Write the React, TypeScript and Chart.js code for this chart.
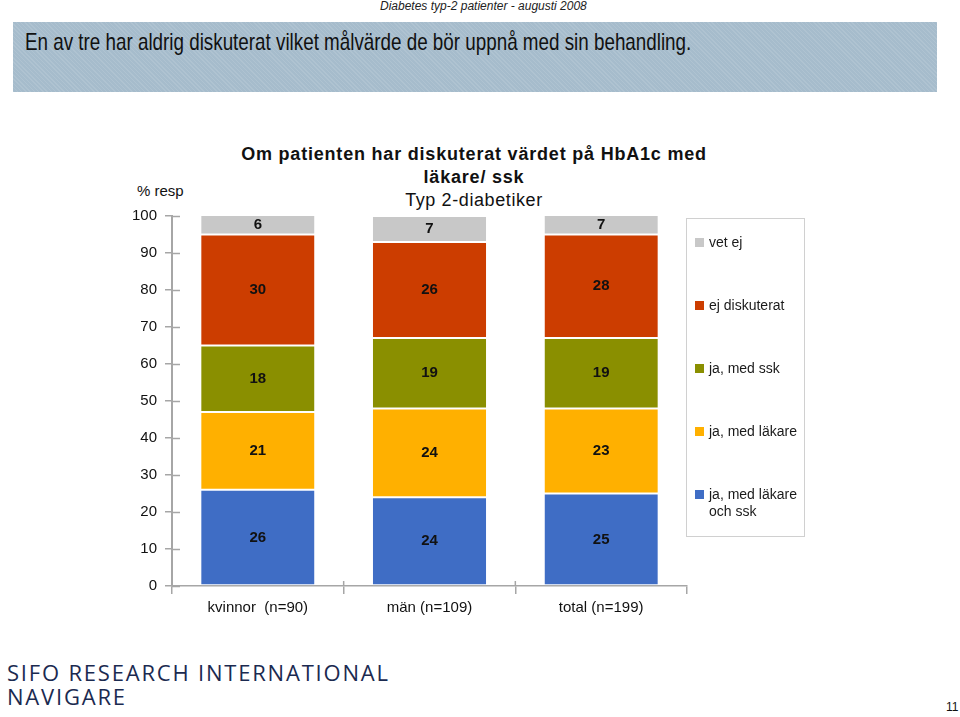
import React, { useEffect, useRef } from "react";
import { Chart, registerables } from "chart.js";

Chart.register(...registerables);

const categories = ["kvinnor  (n=90)", "män (n=109)", "total (n=199)"];
const seriesNames = ["ja, med läkare och ssk", "ja, med läkare", "ja, med ssk", "ej diskuterat", "vet ej"];
const seriesColors = ["#3f6dc5", "#ffb000", "#8a8f00", "#cc3d00", "#c8c8c8"];
const valuesLakareSsk = [26, 24, 25];
const valuesLakare = [21, 24, 23];
const valuesSsk = [18, 19, 19];
const valuesEjDiskuterat = [30, 26, 28];
const valuesVetEj = [6, 7, 7];
const seriesValues = [valuesLakareSsk, valuesLakare, valuesSsk, valuesEjDiskuterat, valuesVetEj];
const yTicks = [0, 10, 20, 30, 40, 50, 60, 70, 80, 90, 100];

const FONT = "'Liberation Sans', Arial, sans-serif";
const AXIS_COLOR = "#a6a6a6";

const innerTicks = {
  id: "innerTicks",
  afterDraw(chart: any) {
    const ctx = chart.ctx;
    const y = chart.scales.y;
    const x = chart.scales.x;
    const area = chart.chartArea;
    ctx.save();
    ctx.strokeStyle = AXIS_COLOR;
    ctx.lineWidth = 1.5;
    yTicks.forEach((v) => {
      const py = Math.round(y.getPixelForValue(v)) + 0.5;
      ctx.beginPath();
      ctx.moveTo(area.left, py);
      ctx.lineTo(area.left + 8, py);
      ctx.stroke();
    });
    for (let i = 1; i < categories.length; i++) {
      const px = (x.getPixelForValue(i - 1) + x.getPixelForValue(i)) / 2;
      ctx.beginPath();
      ctx.moveTo(px, area.bottom);
      ctx.lineTo(px, area.bottom - 5);
      ctx.stroke();
    }
    ctx.restore();
  },
};

const barLabels = {
  id: "barLabels",
  afterDatasetsDraw(chart: any) {
    const ctx = chart.ctx;
    ctx.save();
    ctx.font = `bold 15px ${FONT}`;
    ctx.fillStyle = "#111";
    ctx.textAlign = "center";
    ctx.textBaseline = "middle";
    chart.data.datasets.forEach((ds: any, di: number) => {
      const meta = chart.getDatasetMeta(di);
      meta.data.forEach((el: any, i: number) => {
        const top = Math.max(el.y, chart.chartArea.top);
        const cy = (top + el.base) / 2;
        ctx.fillText(String(ds.data[i]), el.x, cy);
      });
    });
    ctx.restore();
  },
};

export default function App() {
  const ref = useRef<HTMLCanvasElement>(null);

  useEffect(() => {
    document.body.style.margin = "0";
    document.documentElement.style.overflow = "hidden";
    if (!ref.current) return;
    const chart = new Chart(ref.current, {
      type: "bar",
      data: {
        labels: categories,
        datasets: seriesNames.map((name, i) => ({
          label: name,
          data: seriesValues[i],
          backgroundColor: seriesColors[i],
          borderColor: "#ffffff",
          borderWidth: { top: 1, bottom: 1, left: 0, right: 0 },
          borderSkipped: false,
          barPercentage: 0.66,
          categoryPercentage: 1,
          clip: 0,
        })),
      },
      options: {
        animation: false,
        responsive: false,
        maintainAspectRatio: false,
        layout: { padding: { top: 0, right: 13, left: 0, bottom: 0 } },
        plugins: {
          legend: { display: false },
          title: { display: false },
          tooltip: { enabled: false },
        },
        scales: {
          x: {
            stacked: true,
            grid: {
              display: true,
              drawOnChartArea: false,
              drawTicks: true,
              tickLength: 8,
              color: AXIS_COLOR,
              lineWidth: 1.5,
              offset: true,
            },
            border: { display: true, color: AXIS_COLOR, width: 1.5 },
            ticks: { font: { size: 15, family: FONT }, color: "#111", padding: 5 },
            afterFit: (s: any) => {
              s.height = 33;
            },
          },
          y: {
            stacked: true,
            min: 0,
            max: 100,
            grid: {
              display: true,
              drawOnChartArea: false,
              drawTicks: true,
              tickLength: 7,
              color: AXIS_COLOR,
              lineWidth: 1.5,
            },
            border: { display: true, color: AXIS_COLOR, width: 2 },
            ticks: {
              stepSize: 10,
              font: { size: 15, family: FONT },
              color: "#111",
              padding: 8,
            },
            afterFit: (s: any) => {
              s.width = 52;
            },
          },
        },
      },
      plugins: [innerTicks, barLabels],
    });
    return () => chart.destroy();
  }, []);

  const legendOrder = seriesNames.map((n, i) => i).reverse();

  return (
    <div
      style={{
        position: "relative",
        width: 960,
        height: 717,
        fontFamily: FONT,
        color: "#111",
        background: "#ffffff",
      }}
    >
      <div
        style={{
          position: "absolute",
          left: 380,
          top: 0,
          fontSize: 12,
          lineHeight: "13px",
          fontStyle: "italic",
          color: "#222",
          whiteSpace: "nowrap",
        }}
      >
        Diabetes typ-2 patienter - augusti 2008
      </div>
      <div
        style={{
          position: "absolute",
          left: 13,
          top: 22,
          width: 924,
          height: 70,
          background: "#a6bccc",
          backgroundImage:
            "repeating-linear-gradient(45deg, rgba(255,255,255,0.10) 0px, rgba(255,255,255,0.10) 1px, transparent 1px, transparent 3px)",
        }}
      >
        <div
          style={{
            position: "absolute",
            left: 12,
            top: 6,
            fontSize: 24,
            color: "#111",
            whiteSpace: "nowrap",
            transform: "scaleX(0.784)",
            transformOrigin: "left top",
          }}
        >
          En av tre har aldrig diskuterat vilket målvärde de bör uppnå med sin behandling.
        </div>
      </div>
      <div
        style={{
          position: "absolute",
          left: 174,
          top: 143,
          width: 600,
          textAlign: "center",
          fontSize: 18,
          fontWeight: "bold",
          lineHeight: "23px",
          letterSpacing: 0.8,
        }}
      >
        Om patienten har diskuterat värdet på HbA1c med
        <br />
        läkare/ ssk
      </div>
      <div
        style={{
          position: "absolute",
          left: 174,
          top: 189,
          width: 600,
          textAlign: "center",
          fontSize: 18,
          lineHeight: "22px",
          letterSpacing: 0.6,
        }}
      >
        Typ 2-diabetiker
      </div>
      <div style={{ position: "absolute", left: 137, top: 182, fontSize: 15, whiteSpace: "nowrap" }}>% resp</div>
      <canvas
        ref={ref}
        width={580}
        height={420}
        style={{ position: "absolute", left: 120, top: 199, width: 580, height: 420 }}
      />
      <div
        style={{
          position: "absolute",
          left: 686,
          top: 218,
          width: 119,
          height: 319,
          border: "1px solid #d0d0d0",
          boxSizing: "border-box",
        }}
      />
      {legendOrder.map((si, k) => (
        <div
          key={si}
          style={{
            position: "absolute",
            left: 695,
            top: 243 + 63 * k - 9,
            display: "flex",
            alignItems: "flex-start",
            fontSize: 14,
            lineHeight: "17px",
            color: "#1a1a1a",
          }}
        >
          <div style={{ width: 9, height: 9, background: seriesColors[si], marginTop: 4, marginRight: 5, flex: "none" }} />
          <div style={{ width: 95 }}>{seriesNames[si]}</div>
        </div>
      ))}
      <div
        style={{
          position: "absolute",
          left: 7,
          top: 660,
          fontFamily: "'Open Sans', sans-serif",
          fontSize: 22,
          lineHeight: "24px",
          letterSpacing: 1.8,
          color: "#1b2a50",
          whiteSpace: "nowrap",
        }}
      >
        SIFO RESEARCH INTERNATIONAL
        <br />
        NAVIGARE
      </div>
      <div
        style={{
          position: "absolute",
          left: 946,
          top: 701,
          fontSize: 12,
          lineHeight: "13px",
          color: "#111",
          whiteSpace: "nowrap",
        }}
      >
        11
      </div>
    </div>
  );
}
